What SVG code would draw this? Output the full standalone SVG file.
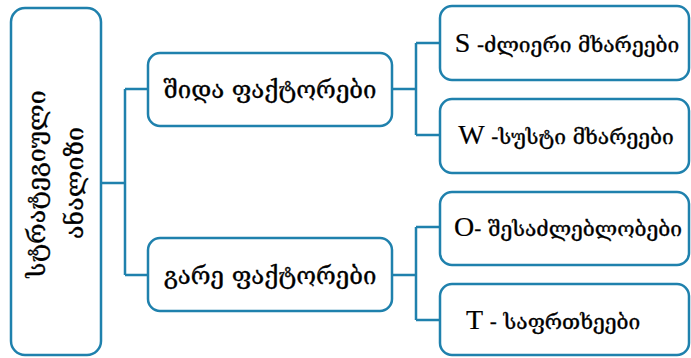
<svg xmlns="http://www.w3.org/2000/svg" width="691" height="358" viewBox="0 0 691 358">
<style>
.box{fill:#ffffff;stroke:#1f81ad;stroke-width:2.5}
.con{fill:none;stroke:#1f81ad;stroke-width:2.5}
.t{font-family:"DejaVu Serif","DejaVu Sans",serif;fill:#000;stroke:#000;stroke-width:0.35}
.m{font-size:24px}
.r{font-size:21px}
.root{font-size:25px}
.lat{font-family:"Liberation Serif",serif;font-size:28px;stroke-width:0.2}
</style>
<rect width="691" height="358" fill="#ffffff"/>
<g id="connectors">
<path class="con" d="M101,183 H125 M125,89 V275 M125,89 H148 M125,275 H148"/>
<path class="con" d="M392,89 H416 M416,43 V135 M416,43 H440 M416,135 H440"/>
<path class="con" d="M392,275 H416 M416,227 V320 M416,227 H440 M416,320 H440"/>
</g>
<g id="root">
<rect class="box" x="11" y="8" width="90" height="347" rx="14"/>
<text class="t root" transform="translate(45,184) rotate(-90)" text-anchor="middle">სტრატეგიული</text>
<text class="t root" transform="translate(83,183) rotate(-90)" text-anchor="middle">ანალიზი</text>
</g>
<g id="internal">
<rect class="box" x="148" y="53" width="244" height="73" rx="12"/>
<text class="t m" x="270" y="98" text-anchor="middle">შიდა ფაქტორები</text>
</g>
<g id="external">
<rect class="box" x="148" y="238" width="244" height="73" rx="12"/>
<text class="t m" x="270" y="284" text-anchor="middle">გარე ფაქტორები</text>
</g>
<g id="strengths">
<rect class="box" x="440" y="6" width="249" height="74" rx="12"/>
<text class="t r" x="567" y="52" text-anchor="middle"><tspan class="lat">S</tspan> -ძლიერი მხარეები</text>
</g>
<g id="weaknesses">
<rect class="box" x="440" y="99" width="249" height="74" rx="12"/>
<text class="t r" x="566" y="144" text-anchor="middle"><tspan class="lat">W</tspan> -სუსტი მხარეები</text>
</g>
<g id="opportunities">
<rect class="box" x="440" y="192" width="249" height="73" rx="12"/>
<text class="t r" x="568" y="236" text-anchor="middle"><tspan class="lat">O</tspan>- შესაძლებლობები</text>
</g>
<g id="threats">
<rect class="box" x="440" y="284" width="249" height="71" rx="12"/>
<text class="t r" x="466" y="329"><tspan class="lat">T</tspan> - საფრთხეები</text>
</g>
</svg>
